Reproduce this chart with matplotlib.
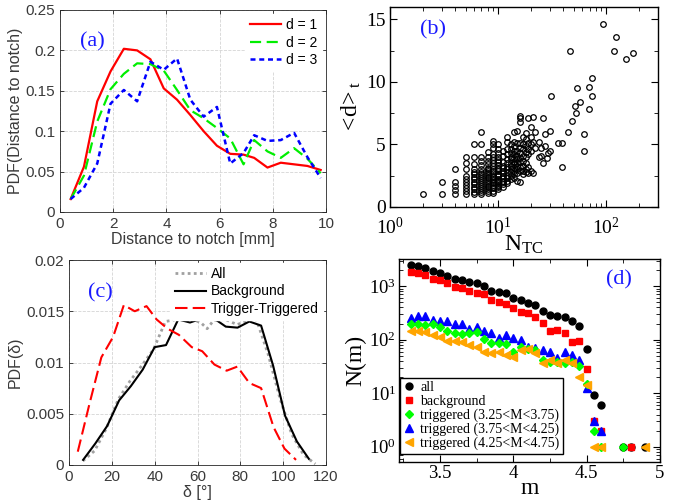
import matplotlib
matplotlib.use("Agg")
import matplotlib.pyplot as plt
from matplotlib.ticker import MultipleLocator, FuncFormatter, LogLocator, NullFormatter
import numpy as np

plt.rcParams['mathtext.fontset'] = 'custom'
plt.rcParams['mathtext.rm'] = 'Liberation Serif'
plt.rcParams['mathtext.it'] = 'Liberation Serif:italic'

# ---------------- Panel (a) data ----------------
dist_x = [0.4, 0.9, 1.4, 1.9, 2.4, 2.9, 3.4, 3.9, 4.4, 4.9, 5.4, 5.9, 6.4, 6.9, 7.3, 7.8, 8.3, 8.8, 9.3, 9.8]
pdf_d1 = [0.016, 0.056, 0.137, 0.174, 0.202, 0.200, 0.189, 0.153, 0.139, 0.120, 0.100, 0.082, 0.072, 0.071, 0.067, 0.055, 0.061, 0.059, 0.057, 0.052]
pdf_d2 = [0.016, 0.045, 0.112, 0.152, 0.171, 0.184, 0.183, 0.175, 0.151, 0.126, 0.116, 0.104, 0.091, 0.059, 0.089, 0.075, 0.067, 0.079, 0.066, 0.048]
pdf_d3 = [0.016, 0.030, 0.060, 0.134, 0.151, 0.137, 0.186, 0.176, 0.190, 0.139, 0.118, 0.130, 0.060, 0.073, 0.095, 0.088, 0.089, 0.098, 0.068, 0.042]
legend_a = ['d = 1', 'd = 2', 'd = 3']

# ---------------- Panel (b) data ----------------
ntc_columns = [2, 3, 4, 5, 6, 7, 8, 9, 10, 11, 12, 13, 14, 15, 16, 17, 18, 19, 20,
               21, 22, 24, 25, 26, 27, 28, 29, 30, 31, 36, 39, 44, 46, 48, 51, 52, 53,
               57, 62, 69, 74, 93, 118, 124, 152, 177]
dt_columns = [
    [1],
    [1, 2],
    [1, 1.33, 1.67, 2, 3],
    [1, 1.25, 1.5, 1.75, 2, 2.25, 2.5, 3, 3.5, 4],
    [1, 1.2, 1.4, 1.6, 1.8, 2, 2.2, 2.4, 2.6, 2.8, 3, 3.4, 4, 5],
    [1, 1.17, 1.33, 1.5, 1.67, 1.83, 2, 2.17, 2.33, 2.5, 2.67, 2.83, 3, 3.33, 3.67, 4, 5, 6],
    [1.14, 1.29, 1.43, 1.57, 1.71, 1.86, 2, 2.14, 2.29, 2.43, 2.57, 2.71, 2.86, 3, 3.14, 3.43, 3.71, 4, 4.43],
    [1.12, 1.25, 1.5, 1.62, 1.75, 1.88, 2, 2.12, 2.25, 2.38, 2.5, 2.75, 2.88, 3, 3.25, 3.5, 3.75, 4, 4.25, 4.75, 5, 5.25],
    [1.44, 1.56, 1.67, 1.78, 1.89, 2, 2.11, 2.22, 2.44, 2.56, 2.67, 2.89, 3, 3.11, 3.33, 3.56, 3.78, 4, 4.33, 4.67, 5],
    [1.6, 1.8, 2, 2.1, 2.3, 2.5, 2.7, 2.9, 3.1, 3.3, 3.6, 4.1, 4.5],
    [1.9, 2.1, 2.3, 2.5, 2.8, 3.0, 3.2, 3.5, 3.8, 4.2, 4.6, 5.2, 5.6],
    [2.2, 2.5, 2.8, 3.0, 3.3, 3.5, 3.8, 4.0, 4.3, 4.6, 5.0],
    [2.3, 2.6, 2.9, 3.1, 3.4, 3.6, 3.9, 4.2, 4.5, 4.9, 5.2, 6.0],
    [2.1, 2.7, 3.0, 3.3, 3.5, 3.8, 4.1, 4.5, 5.1, 6.1],
    [2.0, 2.9, 3.2, 3.6, 3.9, 4.3, 4.7, 5.1, 6.8, 7.1, 7.3],
    [2.6, 2.9, 3.3, 3.7, 4.1, 4.6, 5.0, 5.6],
    [2.8, 3.0, 3.5, 4.0, 4.4, 4.9, 5.4, 5.9],
    [2.7, 3.2, 4.2, 4.6, 5.1, 7.1],
    [2.9, 4.5, 5.0, 5.6, 6.4],
    [7.2, 2.7, 5.2],
    [6.0, 4.7],
    [5.2, 4.0],
    [4.1, 4.7],
    [7.1, 3.5],
    [5.8, 4.9],
    [3.9],
    [4.3],
    [6.1, 4.5],
    [8.9],
    [5.1],
    [3.2, 5.1],
    [6.0],
    [12.5],
    [6.85],
    [8.06],
    [7.5],
    [9.5],
    [8.36],
    [5.8, 4.44],
    [9.6, 7.8],
    [10.3, 8.85],
    [14.6],
    [12.5],
    [13.6],
    [11.8],
    [12.3],
]

# ---------------- Panel (c) data ----------------
all_x = [6.5, 12, 17.5, 23, 28.5, 34, 39.5, 45, 50.5, 56, 61.5, 64.5, 67.5, 73, 78.5, 84, 87.5, 93, 98.5, 104, 109.5, 115]
all_y = [0.0004, 0.0014, 0.0036, 0.0064, 0.0082, 0.0097, 0.0113, 0.0140, 0.0142, 0.0143, 0.0139, 0.0133,
         0.0141, 0.0142, 0.0137, 0.0141, 0.0142, 0.0108, 0.0065, 0.0030, 0.0010, 0.0001]
bg_x = [6.6, 12.3, 17.8, 23.4, 28.9, 34.4, 40, 45.3, 51, 56.5, 62.1, 67.7, 73.2, 78.7, 84.2, 89.7, 95.3, 100.9, 106.4, 112]
bg_y = [0.0005, 0.0021, 0.0038, 0.0063, 0.0077, 0.0093, 0.0115, 0.0117, 0.0142, 0.0139, 0.0143, 0.0143,
        0.0135, 0.0134, 0.0140, 0.0136, 0.0097, 0.0048, 0.0023, 0.0006]
tt_x = [4.1, 9.6, 15.1, 20.6, 25.6, 30.7, 36.2, 40.9, 46, 51.3, 57.3, 62.2, 67.9, 73.6, 78.6, 84.2, 89.7, 95.5, 100.6, 106]
tt_y = [0.0013, 0.0060, 0.0105, 0.0125, 0.0156, 0.0150, 0.0155, 0.0142, 0.0133, 0.0127, 0.0115, 0.0111,
        0.0098, 0.0092, 0.0096, 0.0080, 0.0075, 0.0037, 0.0016, 0.0005]
legend_c = ['All', 'Background', 'Trigger-Triggered']

# ---------------- Panel (d) data ----------------
m_main = [3.30, 3.35, 3.40, 3.45, 3.50, 3.55, 3.60, 3.65, 3.70, 3.75, 3.80, 3.85, 3.90, 3.95,
          4.00, 4.05, 4.10, 4.15, 4.20, 4.25, 4.30, 4.35, 4.40, 4.45, 4.50, 4.55, 4.60]
n_all = [2460, 2390, 2200, 1900, 1770, 1535, 1370, 1290, 1170, 1120, 1010, 818, 762, 730,
         606, 548, 475, 449, 342, 284, 276, 268, 223, 180, 68, 9.2, 6.1]
n_bg = [1850, 1770, 1600, 1330, 1290, 1120, 972, 905, 818, 752, 700, 548, 511, 462,
        395, 323, 310, 261, 202, 145, 151, 131, 92, 94, 28, 3, 2]
n_t1 = [196, 196, 185, 196, 170, 145, 131, 126, 131, 141, 101, 85, 85, 82,
        60, 72, 66, 64, 42, 39, 39, 37, 39, 32, 15, 2, 1]
n_t2 = [250, 276, 276, 232, 223, 223, 196, 193, 160, 170, 147, 131, 106, 122,
        106, 99, 74, 69, 64, 60, 46, 60, 52, 41, 12.4, 3, 2]
n_t3 = [145, 145, 141, 122, 114, 96, 96, 92, 80, 74, 60, 57, 60, 52,
        47, 64, 66, 57, 36, 42, 36, 42, 36, 20, 14, 1, 1]
m_tail_all = [4.75, 4.80, 4.90]
n_tail_all = [1, 1, 1]
m_tail_bg = [4.80]
n_tail_bg = [1]
m_tail_t1 = [4.75]
n_tail_t1 = [1]
m_tail_t3 = [4.90]
n_tail_t3 = [1]
legend_d = ['all', 'background', 'triggered (3.25<M<3.75)', 'triggered (3.75<M<4.25)', 'triggered (4.25<M<4.75)']

# ================= Figure =================
fig = plt.figure(figsize=(6.78, 5.0), dpi=100)

SANS = 'Liberation Sans'
SERIF = 'Liberation Serif'
mgrey = '#262626'


def matlab_style(ax):
    for s in ax.spines.values():
        s.set_color(mgrey)
        s.set_linewidth(0.6)
    ax.tick_params(direction='in', length=3, width=0.6, colors=mgrey, labelsize=11,
                   top=True, right=True)
    for lab in ax.get_xticklabels() + ax.get_yticklabels():
        lab.set_fontfamily(SANS)
        lab.set_color('#3a3a3a')
    ax.grid(True, linestyle='--', color='#d4d4d4', linewidth=0.6)
    ax.set_axisbelow(True)


# ---- (a) ----
ax_a = fig.add_axes([60 / 678, 1 - 212 / 500, 266 / 678, 202 / 500])
ax_a.plot(dist_x, pdf_d1, color='#ff0000', lw=1.6, ls='-', label=legend_a[0])
ax_a.plot(dist_x, pdf_d2, color='#00ee00', lw=1.6, ls=(0, (5, 2.5)), label=legend_a[1])
ax_a.plot(dist_x, pdf_d3, color='#0000ff', lw=1.8, ls=(0, (2, 1.5)), label=legend_a[2])
ax_a.set_xlim(0, 10)
ax_a.set_ylim(0, 0.25)
ax_a.set_xticks([0, 2, 4, 6, 8, 10])
ax_a.set_yticks([0, 0.05, 0.1, 0.15, 0.2, 0.25])
ax_a.yaxis.set_major_formatter(FuncFormatter(lambda v, p: '%g' % v))
matlab_style(ax_a)
ax_a.set_xlabel('Distance to notch [mm]', fontfamily=SANS, fontsize=11.5, color='#3a3a3a', labelpad=1)
ax_a.set_ylabel('PDF(Distance to notch)', fontfamily=SANS, fontsize=11.5, color='#3a3a3a', labelpad=2)
leg = ax_a.legend(loc='upper right', frameon=True, prop={'family': SANS, 'size': 10},
                  handlelength=2.2, handletextpad=0.4, labelspacing=0.25, borderpad=0.3,
                  borderaxespad=0.3)
leg.get_frame().set_edgecolor('white')
leg.get_frame().set_facecolor('white')
leg.get_frame().set_alpha(1)
ax_a.text(0.75, 0.21, '(a)', color='#1a1aff', fontfamily=SERIF, fontsize=16, va='center', ha='left')

# ---- (c) ----
ax_c = fig.add_axes([69 / 678, 1 - 465 / 500, 257 / 678, 205 / 500])
ax_c.plot(all_x, all_y, color='#a0a0a0', lw=2.0, ls=(0, (1, 1.2)), label=legend_c[0])
ax_c.plot(bg_x, bg_y, color='black', lw=1.5, ls='-', label=legend_c[1])
ax_c.plot(tt_x, tt_y, color='#ff0000', lw=1.5, ls=(0, (6, 2.5)), label=legend_c[2])
ax_c.set_xlim(0, 120)
ax_c.set_ylim(0, 0.02)
ax_c.set_xticks([0, 20, 40, 60, 80, 100, 120])
ax_c.set_yticks([0, 0.005, 0.01, 0.015, 0.02])
ax_c.yaxis.set_major_formatter(FuncFormatter(lambda v, p: '%g' % v))
matlab_style(ax_c)
ax_c.set_xlabel('δ [°]', fontfamily=SANS, fontsize=11.5, color='#3a3a3a', labelpad=1)
ax_c.set_ylabel('PDF(δ)', fontfamily=SANS, fontsize=11.5, color='#3a3a3a', labelpad=2)
leg = ax_c.legend(loc='upper right', frameon=True, prop={'family': SANS, 'size': 10},
                  handlelength=2.2, handletextpad=0.4, labelspacing=0.25, borderpad=0.3,
                  borderaxespad=0.2)
leg.get_frame().set_edgecolor('white')
leg.get_frame().set_facecolor('white')
leg.get_frame().set_alpha(1)
ax_c.text(9, 0.0168, '(c)', color='#1a1aff', fontfamily=SERIF, fontsize=16, va='center', ha='left')

# ---- (b) ----
ax_b = fig.add_axes([390 / 678, 1 - 207 / 500, 268 / 678, 200 / 500])
for n, vals in zip(ntc_columns, dt_columns):
    ax_b.plot([n] * len(vals), vals, ls='none', marker='o', ms=4.0, mfc='none', mec='black', mew=0.9)
ax_b.set_xscale('log')
ax_b.set_xlim(1, 300)
ax_b.set_ylim(0, 16)
ax_b.set_yticks([0, 5, 10, 15])
ax_b.yaxis.set_minor_locator(MultipleLocator(2.5))
ax_b.xaxis.set_major_locator(LogLocator(base=10, numticks=10))
ax_b.xaxis.set_minor_locator(LogLocator(base=10, subs=np.arange(2, 10), numticks=20))
ax_b.xaxis.set_minor_formatter(NullFormatter())
ax_b.tick_params(which='major', direction='in', length=5, width=0.8, top=True, right=True, labelsize=14)
ax_b.tick_params(axis='x', which='major', pad=7)
ax_b.tick_params(axis='y', which='major', pad=3)
ax_b.tick_params(which='minor', direction='in', length=3, width=0.6, top=True, right=True)
for lab in ax_b.get_xticklabels() + ax_b.get_yticklabels():
    lab.set_fontfamily(SERIF)
for s in ax_b.spines.values():
    s.set_linewidth(1.0)
ax_b.set_xlabel(r'$\mathrm{N_{TC}}$', fontsize=17, labelpad=-4)
ax_b.set_ylabel(r'$\mathrm{<\!d\!>_t}$', fontsize=17, labelpad=2)
ax_b.text(1.9, 14.2, '(b)', color='#1a1aff', fontfamily=SERIF, fontsize=16, va='center', ha='left')

# ---- (d) ----
ax_d = fig.add_axes([399 / 678, 1 - 462 / 500, 261 / 678, 203 / 500])
h_all, = ax_d.plot(m_main, n_all, ls='none', marker='o', ms=5.0, color='black')
ax_d.plot(m_tail_all, n_tail_all, ls='none', marker='o', ms=5.0, color='black')
h_bg, = ax_d.plot(m_main, n_bg, ls='none', marker='s', ms=4.4, color='#ff0000')
ax_d.plot(m_tail_bg, n_tail_bg, ls='none', marker='s', ms=4.4, color='#ff0000')
h_t2, = ax_d.plot(m_main, n_t2, ls='none', marker='^', ms=5.2, color='#0000ff')
h_t1, = ax_d.plot(m_main, n_t1, ls='none', marker='D', ms=3.8, color='#00ff00')
ax_d.plot(m_tail_t1, n_tail_t1, ls='none', marker='D', ms=3.8, color='#00ff00')
h_t3, = ax_d.plot(m_main, n_t3, ls='none', marker='<', ms=5.2, color='#ffa500')
ax_d.plot(m_tail_t3, n_tail_t3, ls='none', marker='<', ms=5.2, color='#ffa500')
ax_d.set_yscale('log')
ax_d.set_xlim(3.22, 5.0)
ax_d.set_ylim(0.52, 3200)
ax_d.set_xticks([3.5, 4, 4.5, 5])
ax_d.xaxis.set_minor_locator(MultipleLocator(0.25))
ax_d.xaxis.set_major_formatter(FuncFormatter(lambda v, p: '%g' % v))
ax_d.yaxis.set_major_locator(LogLocator(base=10, numticks=10))
ax_d.yaxis.set_minor_locator(LogLocator(base=10, subs=np.arange(2, 10), numticks=20))
ax_d.yaxis.set_minor_formatter(NullFormatter())
ax_d.tick_params(which='major', direction='in', length=5, width=0.8, top=True, right=True, labelsize=13.5, pad=2)
ax_d.tick_params(which='minor', direction='in', length=3, width=0.6, top=True, right=True)
for lab in ax_d.get_xticklabels() + ax_d.get_yticklabels():
    lab.set_fontfamily(SERIF)
for s in ax_d.spines.values():
    s.set_linewidth(1.0)
ax_d.set_xlabel('m', fontfamily=SERIF, fontsize=17, labelpad=-3)
ax_d.set_ylabel('N(m)', fontfamily=SERIF, fontsize=17, labelpad=2)
ax_d.text(4.63, 1300, '(d)', color='#1a1aff', fontfamily=SERIF, fontsize=16, va='center', ha='left')
leg = ax_d.legend([h_all, h_bg, h_t1, h_t2, h_t3], legend_d, loc='lower left',
                  bbox_to_anchor=(0.005, 0.04), prop={'family': SERIF, 'size': 10},
                  handlelength=0.8, handletextpad=0.4, labelspacing=0.05, borderpad=0.25,
                  fancybox=False, framealpha=1, borderaxespad=0)
leg.get_frame().set_edgecolor('black')
leg.get_frame().set_linewidth(1.0)

fig.savefig('out.png', dpi=100)
